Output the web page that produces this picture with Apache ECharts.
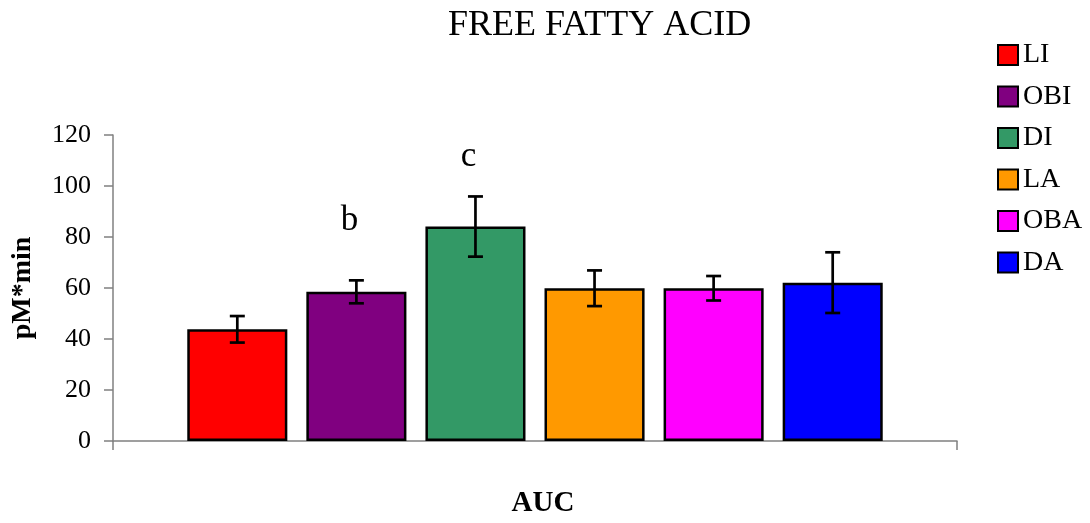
<!DOCTYPE html>
<html>
<head>
<meta charset="utf-8">
<script src="https://cdn.jsdelivr.net/npm/echarts@6/dist/echarts.min.js"></script>
<style>html,body{margin:0;padding:0;background:#fff;}#c{width:1090px;height:523px;}</style>
</head>
<body>
<div id="c"></div>
<script>
const categories = ['AUC'];
const seriesNames = ['LI', 'OBI', 'DI', 'LA', 'OBA', 'DA'];
const means = [43.8, 58.5, 84.1, 59.9, 59.9, 62.1];
const errors = [5.2, 4.5, 11.8, 7.0, 4.8, 11.9];
const letters = ['', 'b', 'c', '', '', ''];
const letterValues = [null, 86.4, 111.3, null, null, null];
const yTicks = { min: 0, max: 120, interval: 20 };
const colors = ['#FF0000', '#800080', '#339966', '#FF9900', '#FF00FF', '#0000FF'];

const CAT_GAP = 0.176, BAR_GAP = 0.19;
const FONT = '"Liberation Serif", "Times New Roman", serif';
const n = seriesNames.length;

function barCenterOffset(api, idx) {
  const band = api.size([1, 0])[0];
  const bw = band * (1 - CAT_GAP) / (n + (n - 1) * BAR_GAP);
  const total = n * bw + (n - 1) * bw * BAR_GAP;
  return -total / 2 + idx * bw * (1 + BAR_GAP) + bw / 2;
}

const barSeries = seriesNames.map((name, i) => ({
  name: name,
  type: 'bar',
  data: [means[i]],
  barCategoryGap: (CAT_GAP * 100) + '%',
  barGap: (BAR_GAP * 100) + '%',
  itemStyle: { color: colors[i], borderColor: '#000', borderWidth: 2.5 },
  emphasis: { disabled: true }
}));

const errData = means.map((m, i) => [0, m, errors[i], i]);
const letterData = [];
letters.forEach((l, i) => { if (l) letterData.push([0, letterValues[i], i, l]); });

const errSeries = {
  type: 'custom',
  data: errData,
  z: 10,
  renderItem: function (params, api) {
    const m = api.value(1), e = api.value(2), idx = api.value(3);
    const c = api.coord([0, m]);
    const x = c[0] + barCenterOffset(api, idx);
    const yTop = api.coord([0, m + e])[1];
    const yBot = api.coord([0, m - e])[1];
    const cap = 7.5;
    const st = { stroke: '#000', lineWidth: 2.7 };
    return {
      type: 'group',
      children: [
        { type: 'line', shape: { x1: x, y1: yTop, x2: x, y2: yBot }, style: st },
        { type: 'line', shape: { x1: x - cap, y1: yTop, x2: x + cap, y2: yTop }, style: st },
        { type: 'line', shape: { x1: x - cap, y1: yBot, x2: x + cap, y2: yBot }, style: st }
      ]
    };
  }
};

const letterSeries = {
  type: 'custom',
  data: letterData,
  z: 10,
  renderItem: function (params, api) {
    const v = api.value(1), idx = api.value(2);
    const txt = letterData[params.dataIndex][3];
    const c = api.coord([0, v]);
    const x = c[0] + barCenterOffset(api, idx) - 7;
    return {
      type: 'text',
      style: { text: txt, x: x, y: c[1], align: 'center', verticalAlign: 'middle',
               font: '35px ' + FONT, fill: '#000' }
    };
  }
};

const chart = echarts.init(document.getElementById('c'));
chart.setOption({
  animation: false,
  backgroundColor: '#fff',
  textStyle: { fontFamily: FONT },
  title: {
    text: 'FREE FATTY ACID',
    left: 448, top: 8, padding: 0,
    textStyle: { fontFamily: FONT, fontSize: 36, fontWeight: 'normal', color: '#000' }
  },
  legend: {
    data: seriesNames,
    orient: 'vertical',
    left: 997, top: 41, padding: 0,
    itemWidth: 20, itemHeight: 20, itemGap: 13.5,
    icon: 'rect',
    textStyle: { fontFamily: FONT, fontSize: 28, lineHeight: 28, color: '#000' }
  },
  grid: { left: 113, right: 133, top: 135, height: 314, containLabel: false },
  xAxis: {
    type: 'category',
    data: categories,
    name: 'AUC',
    nameLocation: 'middle',
    nameGap: 48,
    nameTextStyle: { fontFamily: FONT, fontSize: 29, fontWeight: 'bold', color: '#000', padding: [0, 0, 0, 16] },
    axisLine: { lineStyle: { color: '#808080', width: 1.5 } },
    axisTick: { show: true, length: 9, inside: false, lineStyle: { color: '#808080', width: 1.5 } },
    axisLabel: { show: false }
  },
  yAxis: {
    type: 'value',
    min: yTicks.min, max: yTicks.max, interval: yTicks.interval,
    name: 'pM*min',
    nameLocation: 'middle',
    nameGap: 76,
    nameTextStyle: { fontFamily: FONT, fontSize: 28, fontWeight: 'bold', color: '#000' },
    axisLine: { show: true, lineStyle: { color: '#808080', width: 1.5 } },
    axisTick: { show: true, length: 9, lineStyle: { color: '#808080', width: 1.5 } },
    axisLabel: { fontFamily: FONT, fontSize: 26, color: '#000', margin: 22 },
    splitLine: { show: false }
  },
  series: barSeries.concat([errSeries, letterSeries])
});
</script>
</body>
</html>
